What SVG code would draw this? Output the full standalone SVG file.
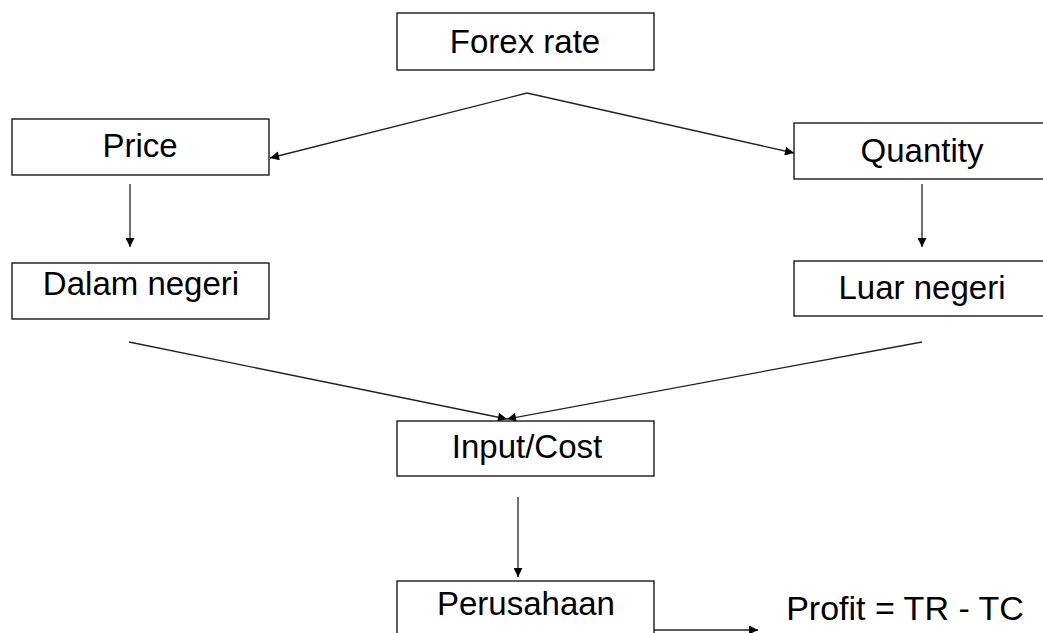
<svg xmlns="http://www.w3.org/2000/svg" width="1043" height="633" viewBox="0 0 1043 633">
<style>
.box{fill:#fff;stroke:#1a1a1a;stroke-width:1.4}
.lbl{font-family:"Liberation Sans",Arial,sans-serif;font-size:33px;fill:#000;text-anchor:middle}
.con{stroke:#222;stroke-width:1.3;fill:none}
</style>
<defs>
<marker id="ah" viewBox="0 0 10 10" refX="10" refY="5" markerWidth="12" markerHeight="9" markerUnits="userSpaceOnUse" orient="auto">
<path d="M0,0 L10,5 L0,10 z" fill="#000"/>
</marker>
</defs>
<rect width="1043" height="633" fill="#fff"/>
<g id="connectors">
<line class="con" x1="527" y1="93" x2="270" y2="158" marker-end="url(#ah)"/>
<line class="con" x1="527" y1="93" x2="794" y2="153" marker-end="url(#ah)"/>
<line class="con" x1="130" y1="184" x2="130" y2="247" marker-end="url(#ah)"/>
<line class="con" x1="922" y1="184" x2="922" y2="247" marker-end="url(#ah)"/>
<line class="con" x1="129" y1="342" x2="507" y2="419" marker-end="url(#ah)"/>
<line class="con" x1="922" y1="342" x2="507" y2="419" marker-end="url(#ah)"/>
<line class="con" x1="518" y1="497" x2="518" y2="577" marker-end="url(#ah)"/>
<line class="con" x1="654" y1="630" x2="758" y2="630" marker-end="url(#ah)"/>
</g>
<g id="forex"><rect class="box" x="397" y="13" width="257" height="57"/><text class="lbl" x="525" y="53">Forex rate</text></g>
<g id="price"><rect class="box" x="12" y="119" width="257" height="56"/><text class="lbl" x="140" y="157">Price</text></g>
<g id="quantity"><rect class="box" x="794" y="123" width="260" height="56"/><text class="lbl" x="922" y="162">Quantity</text></g>
<g id="dalam"><rect class="box" x="12" y="263" width="257" height="56"/><text class="lbl" x="141" y="295">Dalam negeri</text></g>
<g id="luar"><rect class="box" x="794" y="261" width="260" height="55"/><text class="lbl" x="922" y="299">Luar negeri</text></g>
<g id="input"><rect class="box" x="397" y="421" width="257" height="55"/><text class="lbl" x="527" y="458">Input/Cost</text></g>
<g id="perusahaan"><rect class="box" x="397" y="581" width="257" height="70"/><text class="lbl" x="526" y="615">Perusahaan</text></g>
<g id="profit"><text class="lbl" x="905" y="620" style="font-size:34px">Profit = TR - TC</text></g>
</svg>
